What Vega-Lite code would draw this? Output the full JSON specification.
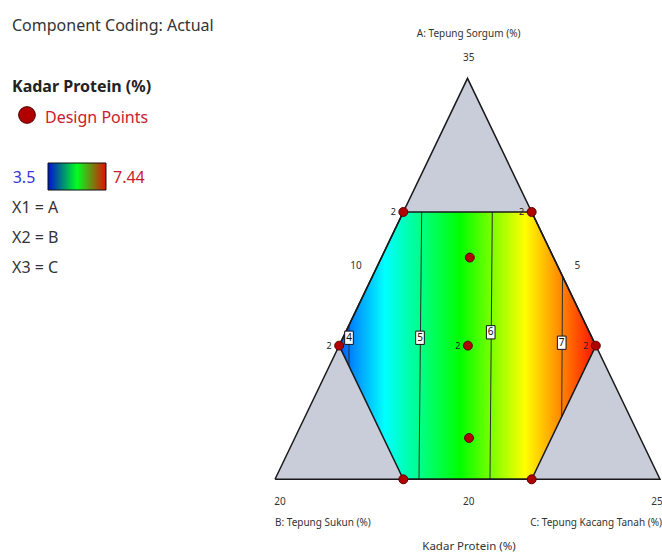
{
  "$schema": "https://vega.github.io/schema/vega-lite/v6.json",
  "width": 662,
  "height": 554,
  "padding": 0,
  "autosize": {"type": "none"},
  "background": "white",
  "config": {"view": {"stroke": null}, "font": "Noto Sans"},
  "datasets": {
    "tri": [
      {"u": 0, "v": 0, "o": 0},
      {"u": 0.5, "v": 1, "o": 1},
      {"u": 1, "v": 0, "o": 2},
      {"u": 0, "v": 0, "o": 3}
    ],
    "triarea": [
      {"u": 0, "v": 0},
      {"u": 0.5, "v": 1},
      {"u": 1, "v": 0}
    ],
    "hexarea": [
      {"u": 0.16667, "v": 0.33333, "v2": 0.33333},
      {"u": 0.33333, "v": 0.66667, "v2": 0},
      {"u": 0.66667, "v": 0.66667, "v2": 0},
      {"u": 0.83333, "v": 0.33333, "v2": 0.33333}
    ],
    "hexline": [
      {"u": 0.16667, "v": 0.33333, "o": 0},
      {"u": 0.33333, "v": 0.66667, "o": 1},
      {"u": 0.66667, "v": 0.66667, "o": 2},
      {"u": 0.83333, "v": 0.33333, "o": 3},
      {"u": 0.66667, "v": 0, "o": 4},
      {"u": 0.33333, "v": 0, "o": 5},
      {"u": 0.16667, "v": 0.33333, "o": 6}
    ],
    "contours": [
      {"level": 4, "u": 0.1922, "v": 0.3844, "u2": 0.1922, "v2": 0.2823},
      {"level": 5, "u": 0.381, "v": 0.66667, "u2": 0.374, "v2": 0},
      {"level": 6, "u": 0.5644, "v": 0.66667, "u2": 0.5584, "v2": 0},
      {"level": 7, "u": 0.7468, "v": 0.5065, "u2": 0.7447, "v2": 0.156}
    ],
    "clabels": [
      {"level": 4, "u": 0.1922, "v": 0.353},
      {"level": 5, "u": 0.3766, "v": 0.353},
      {"level": 6, "u": 0.5603, "v": 0.3666},
      {"level": 7, "u": 0.7447, "v": 0.3406}
    ],
    "points": [
      {"u": 0.33333, "v": 0.66667, "n": 2},
      {"u": 0.66667, "v": 0.66667, "n": 2},
      {"u": 0.16667, "v": 0.33333, "n": 2},
      {"u": 0.83333, "v": 0.33333, "n": 2},
      {"u": 0.501, "v": 0.33333, "n": 2},
      {"u": 0.506, "v": 0.553, "n": 1},
      {"u": 0.504, "v": 0.103, "n": 1},
      {"u": 0.33333, "v": 0, "n": 1},
      {"u": 0.66667, "v": 0, "n": 1}
    ],
    "texts": [
      {"t": "Component Coding: Actual", "u": -0.6831, "v": 1.1187, "g": "plain"},
      {"t": "X1 = A", "u": -0.6831, "v": 0.6633, "g": "plain"},
      {"t": "X2 = B", "u": -0.6831, "v": 0.5885, "g": "plain"},
      {"t": "X3 = C", "u": -0.6831, "v": 0.5137, "g": "plain"},
      {"t": "Kadar Protein (%)", "u": -0.6831, "v": 0.9651, "g": "bold"},
      {"t": "Design Points", "u": -0.5974, "v": 0.8878, "g": "red"},
      {"t": "7.44", "u": -0.4208, "v": 0.7382, "g": "red"},
      {"t": "3.5", "u": -0.6813, "v": 0.7382, "g": "blue"},
      {"t": "A: Tepung Sorgum (%)", "u": 0.503, "v": 1.1022, "g": "axis"},
      {"t": "35", "u": 0.503, "v": 1.0439, "g": "axis"},
      {"t": "10", "u": 0.2104, "v": 0.5244, "g": "axis"},
      {"t": "5", "u": 0.7853, "v": 0.5244, "g": "axis"},
      {"t": "20", "u": 0.013, "v": -0.0636, "g": "axis"},
      {"t": "20", "u": 0.503, "v": -0.0636, "g": "axis"},
      {"t": "25", "u": 0.992, "v": -0.0636, "g": "axis"},
      {"t": "B: Tepung Sukun (%)", "u": 0, "v": -0.1157, "g": "axisleft"},
      {"t": "C: Tepung Kacang Tanah (%)", "u": 1.0052, "v": -0.1157, "g": "axisright"},
      {"t": "Kadar Protein (%)", "u": 0.5039, "v": -0.1763, "g": "xtitle"}
    ],
    "legendsym": [{"u": -0.6442, "v": 0.9085}],
    "legendbar": [{"u": -0.5896, "v": 0.7888, "u2": -0.439, "v2": 0.7214}]
  },
  "encoding": {
    "x": {"field": "u", "type": "quantitative", "scale": {"domain": [-0.71429, 1.00519], "nice": false, "zero": false}, "axis": null},
    "y": {"field": "v", "type": "quantitative", "scale": {"domain": [-0.1863, 1.1953], "nice": false, "zero": false}, "axis": null}
  },
  "layer": [
    {
      "data": {"name": "triarea"},
      "mark": {"type": "area", "fill": "#c9cdd9", "opacity": 1},
      "encoding": {"y2": {"datum": 0}}
    },
    {
      "data": {"name": "hexarea"},
      "mark": {
        "type": "area",
        "opacity": 1,
        "fill": {
          "gradient": "linear", "x1": 0, "y1": 0, "x2": 1, "y2": 0,
          "stops": [
            {"offset": 0, "color": "#0058ff"},
            {"offset": 0.178, "color": "#00ffff"},
            {"offset": 0.471, "color": "#00ff00"},
            {"offset": 0.724, "color": "#ffff00"},
            {"offset": 1, "color": "#ff1000"}
          ]
        }
      },
      "encoding": {"y2": {"field": "v2"}}
    },
    {
      "data": {"name": "contours"},
      "mark": {"type": "rule", "stroke": "#2e2e2e", "strokeWidth": 1},
      "encoding": {"x2": {"field": "u2"}, "y2": {"field": "v2"}}
    },
    {
      "data": {"name": "tri"},
      "mark": {"type": "line", "stroke": "#1a1a1a", "strokeWidth": 1.5},
      "encoding": {"order": {"field": "o"}}
    },
    {
      "data": {"name": "hexline"},
      "mark": {"type": "line", "stroke": "#1a1a1a", "strokeWidth": 1.5},
      "encoding": {"order": {"field": "o"}}
    },
    {
      "data": {"name": "clabels"},
      "mark": {"type": "point", "shape": "M-0.65,-1L0.65,-1L0.65,1L-0.65,1Z", "filled": true, "fill": "white", "stroke": "#111111", "strokeWidth": 1, "size": 177, "opacity": 1}
    },
    {
      "data": {"name": "clabels"},
      "mark": {"type": "text", "fontSize": 10, "align": "center", "baseline": "middle", "color": "#111111"},
      "encoding": {"text": {"field": "level", "type": "nominal"}}
    },
    {
      "data": {"name": "points"},
      "mark": {"type": "point", "shape": "circle", "filled": true, "fill": "#b00000", "stroke": "#5a0000", "strokeWidth": 1, "size": 80, "opacity": 1}
    },
    {
      "data": {"name": "points"},
      "transform": [{"filter": "datum.n == 2"}],
      "mark": {"type": "text", "fontSize": 9, "align": "center", "baseline": "middle", "dx": -10, "color": "#222222"},
      "encoding": {"text": {"field": "n", "type": "nominal"}}
    },
    {
      "data": {"name": "texts"},
      "transform": [{"filter": "datum.g == 'plain'"}],
      "mark": {"type": "text", "fontSize": 16, "align": "left", "baseline": "alphabetic", "color": "#333333"},
      "encoding": {"text": {"field": "t", "type": "nominal"}}
    },
    {
      "data": {"name": "texts"},
      "transform": [{"filter": "datum.g == 'bold'"}],
      "mark": {"type": "text", "fontSize": 16, "fontWeight": "bold", "align": "left", "baseline": "alphabetic", "color": "#222222"},
      "encoding": {"text": {"field": "t", "type": "nominal"}}
    },
    {
      "data": {"name": "texts"},
      "transform": [{"filter": "datum.g == 'red'"}],
      "mark": {"type": "text", "fontSize": 16, "align": "left", "baseline": "alphabetic", "color": "#c8202c"},
      "encoding": {"text": {"field": "t", "type": "nominal"}}
    },
    {
      "data": {"name": "texts"},
      "transform": [{"filter": "datum.g == 'blue'"}],
      "mark": {"type": "text", "fontSize": 16, "align": "left", "baseline": "alphabetic", "color": "#3535dc"},
      "encoding": {"text": {"field": "t", "type": "nominal"}}
    },
    {
      "data": {"name": "texts"},
      "transform": [{"filter": "datum.g == 'axis'"}],
      "mark": {"type": "text", "fontSize": 10, "align": "center", "baseline": "alphabetic", "color": "#333333"},
      "encoding": {"text": {"field": "t", "type": "nominal"}}
    },
    {
      "data": {"name": "texts"},
      "transform": [{"filter": "datum.g == 'axisleft'"}],
      "mark": {"type": "text", "fontSize": 10, "align": "left", "baseline": "alphabetic", "color": "#333333"},
      "encoding": {"text": {"field": "t", "type": "nominal"}}
    },
    {
      "data": {"name": "texts"},
      "transform": [{"filter": "datum.g == 'axisright'"}],
      "mark": {"type": "text", "fontSize": 10, "align": "right", "baseline": "alphabetic", "color": "#333333"},
      "encoding": {"text": {"field": "t", "type": "nominal"}}
    },
    {
      "data": {"name": "texts"},
      "transform": [{"filter": "datum.g == 'xtitle'"}],
      "mark": {"type": "text", "fontSize": 11.5, "align": "center", "baseline": "alphabetic", "color": "#333333"},
      "encoding": {"text": {"field": "t", "type": "nominal"}}
    },
    {
      "data": {"name": "legendsym"},
      "mark": {"type": "point", "shape": "circle", "filled": true, "fill": "#b00000", "stroke": "#4a0000", "strokeWidth": 1, "size": 280, "opacity": 1}
    },
    {
      "data": {"name": "legendbar"},
      "mark": {
        "type": "rect",
        "stroke": "#111111",
        "strokeWidth": 1,
        "opacity": 1,
        "fill": {
          "gradient": "linear", "x1": 0, "y1": 0, "x2": 1, "y2": 0,
          "stops": [
            {"offset": 0, "color": "#0010d0"},
            {"offset": 0.5, "color": "#00ff20"},
            {"offset": 1, "color": "#e01000"}
          ]
        }
      },
      "encoding": {"x2": {"field": "u2"}, "y2": {"field": "v2"}}
    }
  ]
}
